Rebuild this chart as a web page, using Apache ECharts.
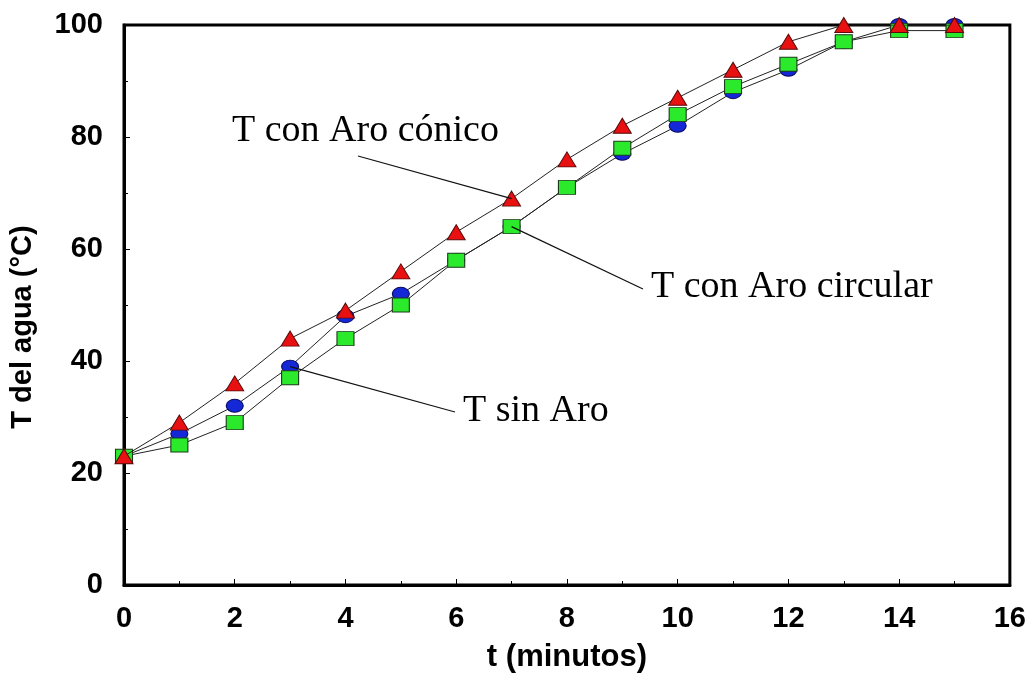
<!DOCTYPE html>
<html>
<head>
<meta charset="utf-8">
<script src="https://cdn.jsdelivr.net/npm/echarts@6/dist/echarts.min.js"></script>
<style>
  html, body { margin: 0; padding: 0; background: #fff; }
  #chart { width: 1029px; height: 682px; }
</style>
</head>
<body>
<div id="chart"></div>
<script>
// tiempo (minutos)
const tiempo = [0, 1, 2, 3, 4, 5, 6, 7, 8, 9, 10, 11, 12, 13, 14, 15];
// temperatura del agua (°C)
const tConico = [23, 29, 36, 44, 49, 56, 63, 69, 76, 82, 87, 92, 97, 100, 100, 100];
const tSinAro = [23, 27, 32, 39, 48, 52, 58, 64, 71, 77, 82, 88, 92, 97, 100, 100];
const tCircular = [23, 25, 29, 37, 44, 50, 58, 64, 71, 78, 84, 89, 93, 97, 99, 99];

const serieNames = ["T con Aro circular", "T sin Aro", "T con Aro cónico"];

const pares = (ys) => tiempo.map((t, i) => [t, ys[i]]);

const chart = echarts.init(document.getElementById("chart"));

const sansBold = (size) => ({
    fontFamily: "Liberation Sans, Arial, sans-serif",
    fontWeight: "bold",
    fontSize: size,
    color: "#000",
});

const lineStyle = { color: "#222", width: 1 };

const option = {
    backgroundColor: "#fff",
    animation: false,
    grid: {
        left: 123,
        right: 16,
        top: 25,
        bottom: 97,
        show: true,
        borderColor: "#000",
        borderWidth: 3,
    },
    xAxis: {
        type: "value",
        min: 0,
        max: 16,
        interval: 2,
        name: "t (minutos)",
        nameLocation: "middle",
        nameGap: 57,
        nameTextStyle: sansBold(31),
        axisLine: { lineStyle: { color: "#000", width: 3 } },
        axisTick: { inside: true, length: 6, lineStyle: { color: "#000", width: 1 } },
        minorTick: { show: true, splitNumber: 2, length: 4, lineStyle: { color: "#000" } },
        axisLabel: Object.assign({ margin: 19 }, sansBold(29)),
        splitLine: { show: false },
    },
    yAxis: {
        type: "value",
        min: 0,
        max: 100,
        interval: 20,
        name: "T del agua (°C)",
        nameLocation: "middle",
        nameGap: 87,
        nameTextStyle: Object.assign({ padding: [0, 44, 0, 0] }, sansBold(29)),
        axisLine: { lineStyle: { color: "#000", width: 3 } },
        axisTick: { inside: true, length: 6, lineStyle: { color: "#000", width: 1 } },
        minorTick: { show: true, splitNumber: 2, length: 4, lineStyle: { color: "#000" } },
        axisLabel: Object.assign({ margin: 21 }, sansBold(29)),
        splitLine: { show: false },
    },
    series: [
        {
            name: serieNames[1],
            type: "line",
            data: pares(tSinAro),
            symbol: "circle",
            symbolSize: [17, 13],
            showAllSymbol: true,
            lineStyle: lineStyle,
            itemStyle: { color: "#1428D8", borderColor: "#0a0a60", borderWidth: 1 },
            z: 2,
        },
        {
            name: serieNames[0],
            type: "line",
            data: pares(tCircular),
            symbol: "rect",
            symbolSize: [17, 14],
            showAllSymbol: true,
            lineStyle: lineStyle,
            itemStyle: { color: "#2BEA2B", borderColor: "#1a3a1a", borderWidth: 1 },
            z: 3,
        },
        {
            name: serieNames[2],
            type: "line",
            data: pares(tConico),
            symbol: "triangle",
            symbolSize: [18, 15],
            showAllSymbol: true,
            lineStyle: lineStyle,
            itemStyle: { color: "#E81010", borderColor: "#5a0a0a", borderWidth: 1 },
            z: 4,
        },
    ],
};

chart.setOption(option);

// etiquetas con líneas guía hacia un punto de cada serie
const serifFont = "38px 'Liberation Serif', 'Times New Roman', serif";
const notas = [
    { texto: serieNames[2], serie: tConico, idx: 7, tx: 232, ty: 131, lx: 358, ly: 156 },
    { texto: serieNames[0], serie: tCircular, idx: 7, tx: 651, ty: 287, lx: 643, ly: 289 },
    { texto: serieNames[1], serie: tSinAro, idx: 3, tx: 463, ty: 411, lx: 455, ly: 412 },
];

const graphic = [];
notas.forEach((n) => {
    const p = chart.convertToPixel({ gridIndex: 0 }, [tiempo[n.idx], n.serie[n.idx]]);
    graphic.push({
        type: "line",
        shape: { x1: n.lx, y1: n.ly, x2: p[0], y2: p[1] },
        style: { stroke: "#111", lineWidth: 1.2 },
        z: 10,
    });
    graphic.push({
        type: "text",
        x: n.tx,
        y: n.ty,
        style: {
            text: n.texto,
            font: serifFont,
            fill: "#000",
            textVerticalAlign: "middle",
        },
        z: 10,
    });
});
chart.setOption({ graphic: graphic });
</script>
</body>
</html>
